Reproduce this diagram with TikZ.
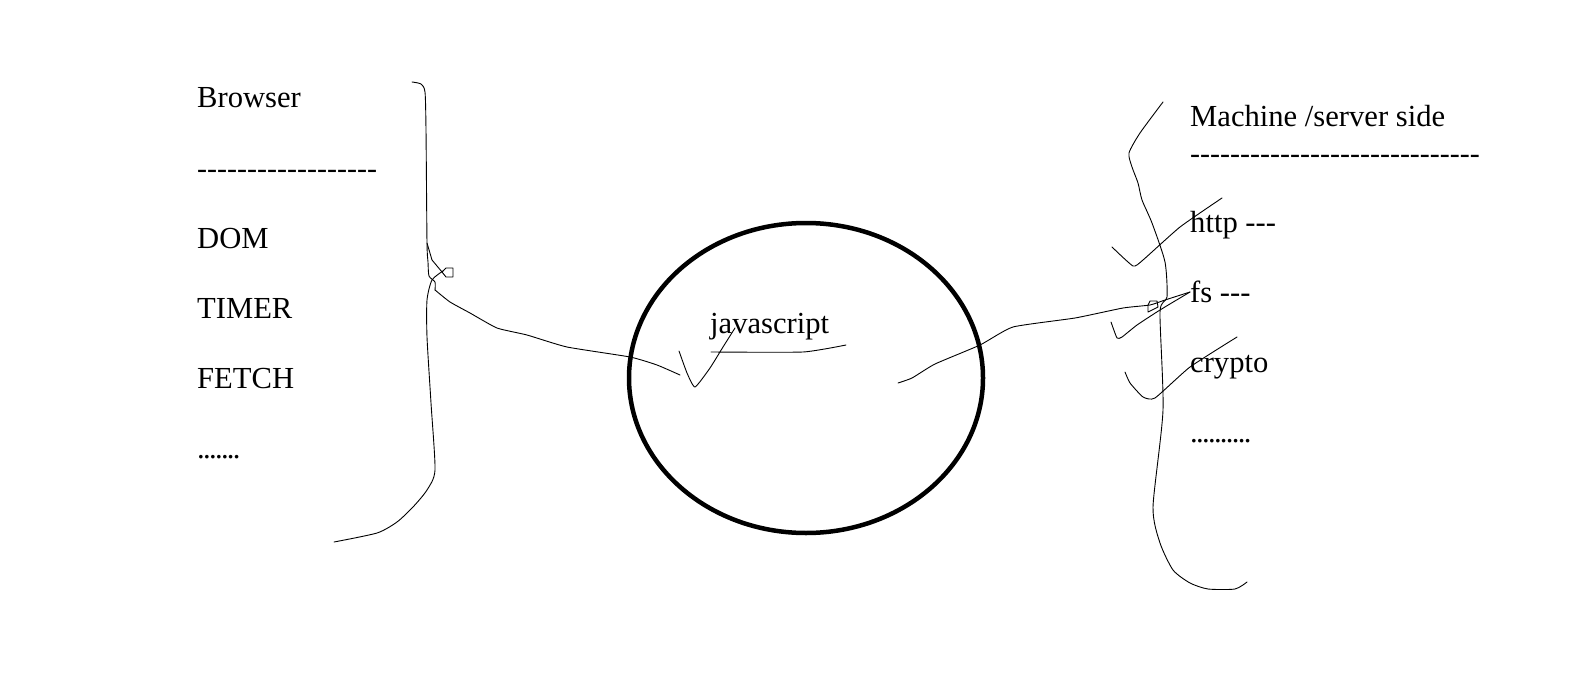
\documentclass[tikz,border=0pt]{standalone}
\usepackage{fontspec}
\setmainfont[Ligatures=TeXOff]{Liberation Serif}
\usetikzlibrary{shapes.geometric}

\newcommand{\tightdots}[1]{\foreach \k in {1,...,#1}{.\kern-1.7pt}}

\begin{document}
\begin{tikzpicture}[x=1pt, y=-1pt,
    item/.style={anchor=base west, inner sep=0pt, font=\fontsize{30.6}{36}\selectfont},
    rulerow/.style={item, font=\fontsize{30}{36}\selectfont},
    sketch/.style={draw=black, line width=0.9pt, line join=round, line cap=round},
    engine/.style={ellipse, draw=black, line width=4.5pt, minimum width=354pt, minimum height=310pt, inner sep=0pt}
]
    \useasboundingbox[fill=white] (0,0) rectangle (1576,682);

    % Browser list
    \node[item] (browser) at (197,108) {Browser};
    \node[rulerow] (bdash) at (197,178) {------------------};
    \node[item] (dom) at (197,248) {DOM};
    \node[item] (timer) at (197,318) {TIMER};
    \node[item] (fetch) at (197,388) {FETCH};
    \node[item] (bdots) at (197,458) {\tightdots{7}};

    % Machine / server list
    \node[item] (machine) at (1190,127) {Machine /server side};
    \node[rulerow] (mdash) at (1190,163) {-----------------------------};
    \node[item] (http) at (1190,232) {http ---};
    \node[item] (fs) at (1190,302) {fs ---};
    \node[item] (crypto) at (1190,372) {crypto};
    \node[item] (mdots) at (1190,442) {\tightdots{10}};

    % Engine
    \node[engine] (jsengine) at (806,378) {};
    \node[item] (jslabel) at (710,333) {javascript};

    % Left brace
    \draw[sketch] plot[smooth, tension=0.4] coordinates {(412,82) (421,84) (425,92) (426,130) (427,243) (428,262) (429,276) (435,282) (435,290)};
    \draw[sketch] (427,243) -- (432,260) -- (442,272);
    \draw[sketch] (442,272) -- (446,268) -- (453,268) -- (453,277) -- (446,277) -- cycle;
    \draw[sketch] plot[smooth, tension=0.4] coordinates {(443,271) (432,280) (427,300) (427,337) (431,403) (435,470) (427,490) (413,507) (397,522) (377,533) (334,542)};
    \coordinate (lknot) at (435,290);

    % Browser -> engine
    \draw[sketch] plot[smooth, tension=0.3] coordinates {(lknot) (450,302) (470,313) (497,328) (527,335) (567,347) (630,357) (657,365) (680,375)};
    \draw[sketch] plot[smooth, tension=0.3] coordinates {(679,351) (687,373) (695,387) (710,368) (723,347) (735,328)};
    \draw[sketch] plot[smooth, tension=0.3] coordinates {(711,352) (803,352) (846,345)};

    % Right brace
    \draw[sketch] plot[smooth, tension=0.4] coordinates {(1163,102) (1140,133) (1129,153) (1132,167) (1138,183) (1142,200) (1152,223) (1165,262) (1167,297) (1160,312) (1163,410) (1153,507) (1160,543) (1173,570) (1190,583) (1208,589) (1235,589) (1247,582)};
    \draw[sketch] (1150,301) -- (1157,301) -- (1158,307) -- (1148,312) -- (1148,305) -- cycle;
    \coordinate (rknot) at (1190,292);

    % Engine -> machine
    \draw[sketch] plot[smooth, tension=0.3] coordinates {(898,383) (912,378) (935,364) (980,345) (1013,327) (1075,318) (1123,308) (1150,305) (1165,300) (rknot)};
    \draw[sketch] plot[smooth, tension=0.3] coordinates {(rknot) (1160,310) (1137,325) (1122,337) (1117,338) (1111,322)};
    \draw[sketch] plot[smooth, tension=0.3] coordinates {(1112,247) (1133,266) (1143,260) (1180,227) (1222,198)};
    \draw[sketch] plot[smooth, tension=0.3] coordinates {(1125,372) (1130,383) (1143,397) (1155,398) (1190,367) (1237,337)};

\end{tikzpicture}
\end{document}
